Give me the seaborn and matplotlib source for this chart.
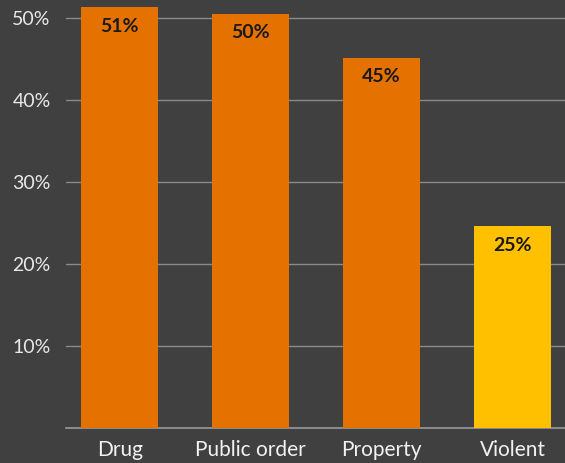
import matplotlib
matplotlib.use("Agg")
import matplotlib.pyplot as plt
import seaborn as sns
import pandas as pd

# chart data
categories = ["Drug", "Public order", "Property", "Violent"]
values = [51.3, 50.5, 45.1, 24.6]
labels = ["51%", "50%", "45%", "25%"]
bar_colors = ["#E57200", "#E57200", "#E57200", "#FFC000"]
yticks = [10, 20, 30, 40, 50]

bg = "#404040"

sns.set_theme(style="dark")
plt.rcParams["font.family"] = ["Lato", "DejaVu Sans"]

df = pd.DataFrame({"category": categories, "value": values})

fig = plt.figure(figsize=(5.65, 4.63), dpi=100, facecolor=bg)
ax = fig.add_axes([66 / 565, 35 / 463, 1 - 66 / 565, 1 - 35 / 463])
ax.set_facecolor(bg)

sns.barplot(data=df, x="category", y="value", hue="category",
            palette=bar_colors, width=0.59, legend=False, ax=ax,
            saturation=1, linewidth=0, zorder=3)

ax.set_xlim(-0.41, 3.40)
ax.set_ylim(0, 52.2)
ax.set_yticks(yticks)
ax.set_yticklabels([f"{t}%" for t in yticks], color="#e8e8e8", fontsize=14)
ax.yaxis.grid(True, color="#8a8a8a", linewidth=1, zorder=0)
ax.xaxis.grid(False)
ax.tick_params(axis="y", length=0, pad=11)
ax.tick_params(axis="x", length=0, pad=9, labelsize=15, labelcolor="#f2f2f2")
ax.set_xlabel("")
ax.set_ylabel("")

for s in ["top", "right", "left"]:
    ax.spines[s].set_visible(False)
ax.spines["bottom"].set_color("#9a9a9a")
ax.spines["bottom"].set_linewidth(1.2)

for i, (v, lab) in enumerate(zip(values, labels)):
    ax.annotate(lab, (i, v), xytext=(0, -13.5), textcoords="offset points",
                ha="center", va="center", fontsize=14, fontweight="bold",
                color="#1a1a1a", zorder=4)

fig.savefig("out.png", dpi=100, facecolor=bg)
